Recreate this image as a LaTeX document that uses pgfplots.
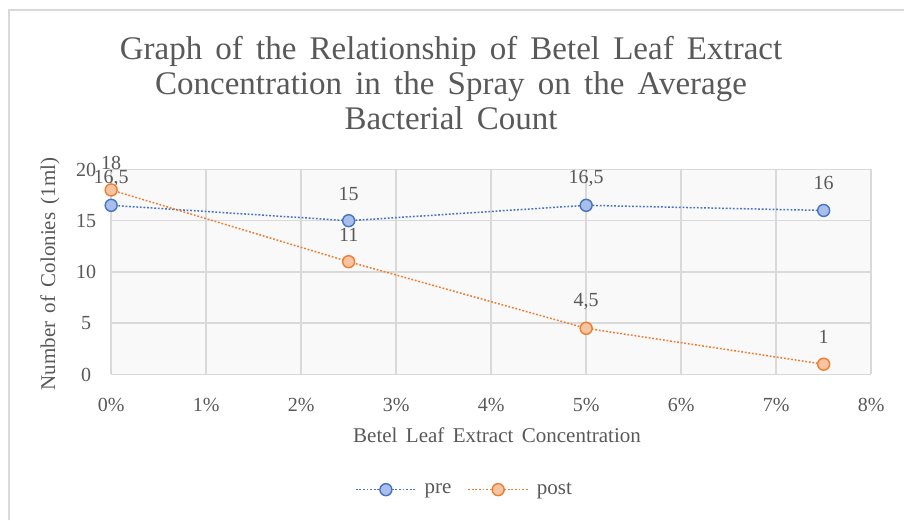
\documentclass[border=0pt]{standalone}
\usepackage{pgfplots}
\pgfplotsset{compat=1.18}
\usepackage{fontspec}
\setmainfont{Liberation Serif}[WordSpace=1.6]
\definecolor{txt}{HTML}{595959}
\definecolor{gridc}{HTML}{D9D9D9}
\definecolor{preE}{HTML}{4472C4}
\definecolor{preF}{HTML}{A9BEEA}
\definecolor{postE}{HTML}{ED7D31}
\definecolor{postF}{HTML}{F8C3A0}
\begin{document}
\begin{tikzpicture}[x=1pt,y=1pt]
\path[use as bounding box, fill=white] (0,0) rectangle (904,520);
\draw[gridc, line width=1.5pt] (9,0) -- (9,510) -- (904,510);
\node[txt, anchor=base, font=\fontsize{33}{40}\selectfont] at (451,460) {Graph of the Relationship of Betel Leaf Extract};
\node[txt, anchor=base, font=\fontsize{33}{40}\selectfont] at (451,425) {Concentration in the Spray on the Average};
\node[txt, anchor=base, font=\fontsize{33}{40}\selectfont] at (451,390) {Bacterial Count};
\node[txt, rotate=90, font=\fontsize{21}{25}\selectfont] at (50,246) {Number of Colonies (1ml)};
\node[txt, font=\fontsize{21}{25}\selectfont] at (497,85) {Betel Leaf Extract Concentration};
\begin{axis}[
  at={(117,142)}, anchor=south west,
  scale only axis, width=760pt, height=205pt,
  xmin=0, xmax=8, ymin=0, ymax=20,
  xtick={0,1,2,3,4,5,6,7,8},
  xticklabels={0\%,1\%,2\%,3\%,4\%,5\%,6\%,7\%,8\%},
  ytick={0,5,10,15,20},
  /pgf/number format/assume math mode=true,
  axis line style={draw=none},
  major tick length=0pt,
  grid=major,
  major grid style={gridc, line width=1.5pt},
  axis background/.style={fill=black!2.5},
  ticklabel style={txt, font=\fontsize{20}{24}\selectfont},
  xticklabel style={anchor=center, yshift=-31pt},
  yticklabel style={anchor=center, xshift=-25pt},
  clip=false,
  point meta=explicit symbolic,
  nodes near coords={\pgfplotspointmeta},
  nodes near coords style={anchor=center, yshift=27pt, txt, font=\fontsize{20}{24}\selectfont},
  legend columns=2,
  legend style={draw=none, fill=none, at={(0.465,-0.562)}, anchor=center, font=\fontsize{21}{25}\selectfont, text=txt,
    /tikz/every odd column/.append style={column sep=6pt},
    /tikz/every even column/.append style={column sep=14pt}},
  legend image code/.code={\draw[#1, mark repeat=2, mark phase=2] plot coordinates {(0pt,0pt) (30pt,0pt) (60pt,0pt)};},
]
\addplot[preE, line width=1.5pt, dash pattern=on 1.8pt off 1.8pt, mark=*, mark size=6pt, mark options={solid, fill=preF, draw=preE, line width=1.4pt}] table[meta=lab] {
x y lab
0 16.5 16,5
2.5 15 15
5 16.5 16,5
7.5 16 16
};
\addlegendentry{pre}
\addplot[postE, line width=1.5pt, dash pattern=on 1.8pt off 1.8pt, mark=*, mark size=6pt, mark options={solid, fill=postF, draw=postE, line width=1.4pt}] table[meta=lab] {
x y lab
0 18 18
2.5 11 11
5 4.5 4,5
7.5 1 1
};
\addlegendentry{post}
\end{axis}
\end{tikzpicture}
\end{document}
